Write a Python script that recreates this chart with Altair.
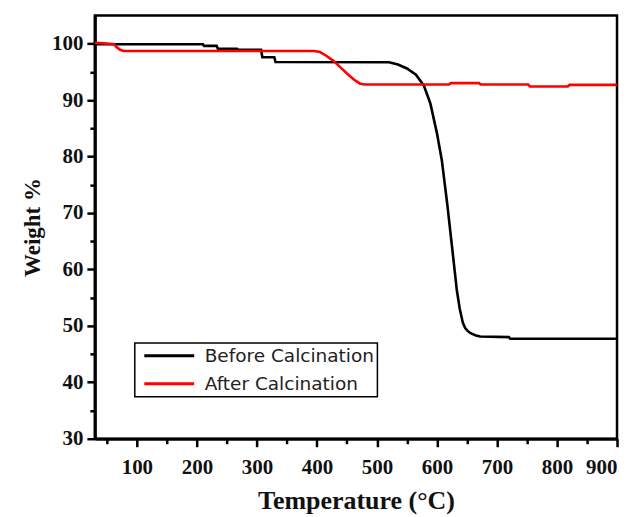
import altair as alt
import pandas as pd

series_names = ["Before Calcination", "After Calcination"]
series_colors = ["#000000", "#ff0000"]

temp_before = [30, 210, 212, 233, 235, 267, 269, 307, 309, 329, 331, 520, 535, 550,
               565, 578, 589, 600, 608, 617, 625, 633, 638, 643, 647, 651, 656, 665,
               672, 720, 722, 900]
weight_before = [99.9, 99.9, 99.6, 99.6, 99.1, 99.1, 98.9, 98.9, 97.6, 97.6, 96.75,
                 96.7, 96.3, 95.6, 94.5, 92.6, 89.4, 84.1, 79.4, 71.7, 64.1, 56.4,
                 53.0, 50.6, 49.6, 49.1, 48.7, 48.3, 48.1, 48.0, 47.7, 47.7]

temp_after = [30, 50, 62, 66, 72, 78, 395, 405, 415, 428, 440, 450, 462, 472, 480,
              620, 623, 670, 673, 752, 755, 818, 821, 900]
weight_after = [100.15, 100.0, 99.9, 99.4, 98.9, 98.7, 98.7, 98.5, 97.9, 96.9, 95.7,
                94.7, 93.6, 92.9, 92.75, 92.75, 93.0, 93.0, 92.75, 92.75, 92.4, 92.4,
                92.7, 92.7]

x_major = [100, 200, 300, 400, 500, 600, 700, 800, 900]
x_minor = [50, 150, 250, 350, 450, 550, 650, 750, 850]
y_major = [30, 40, 50, 60, 70, 80, 90, 100]
y_minor = [35, 45, 55, 65, 75, 85, 95]

rows = []
for t, w in zip(temp_before, weight_before):
    rows.append({"temp": t, "weight": w, "series": series_names[0]})
for t, w in zip(temp_after, weight_after):
    rows.append({"temp": t, "weight": w, "series": series_names[1]})
df = pd.DataFrame(rows)

x_scale = alt.Scale(domain=[30, 900], nice=False, zero=False)
y_scale = alt.Scale(domain=[30, 105], nice=False, zero=False)

lines = alt.Chart(df).mark_line(strokeWidth=2.6).encode(
    x=alt.X("temp:Q", scale=x_scale,
            axis=alt.Axis(values=x_major, tickSize=8, title="Temperature (°C)",
                          labelPadding=10, titlePadding=10, titleFontSize=26,
                          format="d")),
    y=alt.Y("weight:Q", scale=y_scale,
            axis=alt.Axis(values=y_major, tickSize=8, title="Weight %",
                          labelPadding=4, titlePadding=7, titleFontSize=23,
                          format="d")),
    color=alt.Color("series:N",
                    scale=alt.Scale(domain=series_names, range=series_colors),
                    legend=alt.Legend(orient="none", legendX=40, legendY=328,
                                      title=None, symbolType="stroke",
                                      symbolSize=2500, symbolStrokeWidth=3,
                                      clipHeight=20, rowPadding=8, padding=3,
                                      symbolOffset=5, labelOffset=9, labelLimit=400,
                                      labelFont="DejaVu Sans", labelFontSize=18.5,
                                      labelColor="#222222", strokeColor="#000000")),
    detail="series:N",
)

minor = alt.Chart(df).mark_line(opacity=0).encode(
    x=alt.X("temp:Q", scale=x_scale,
            axis=alt.Axis(orient="bottom", values=x_minor, tickSize=5, labels=False,
                          domain=False, title=None)),
    y=alt.Y("weight:Q", scale=y_scale,
            axis=alt.Axis(orient="left", values=y_minor, tickSize=5, labels=False,
                          domain=False, title=None)),
)

chart = alt.layer(lines, minor).resolve_axis(
    x="independent", y="independent"
).properties(
    width=523, height=424,
    autosize=alt.AutoSizeParams(type="none"),
    padding={"left": 87, "top": 7, "right": 14, "bottom": 90},
).configure_view(
    stroke="#000000", strokeWidth=2.5
).configure_axis(
    domainColor="#000000", domainWidth=3, tickColor="#000000", tickWidth=2.5,
    labelFont="Liberation Serif", labelFontWeight="bold", labelFontSize=21,
    labelColor="#111111", titleFont="Liberation Serif", titleFontWeight="bold",
    titleColor="#111111", grid=False,
).configure_legend(
    strokeWidth=1.5
)

chart.save("out.html", embed_options={"renderer": "svg", "actions": False})
